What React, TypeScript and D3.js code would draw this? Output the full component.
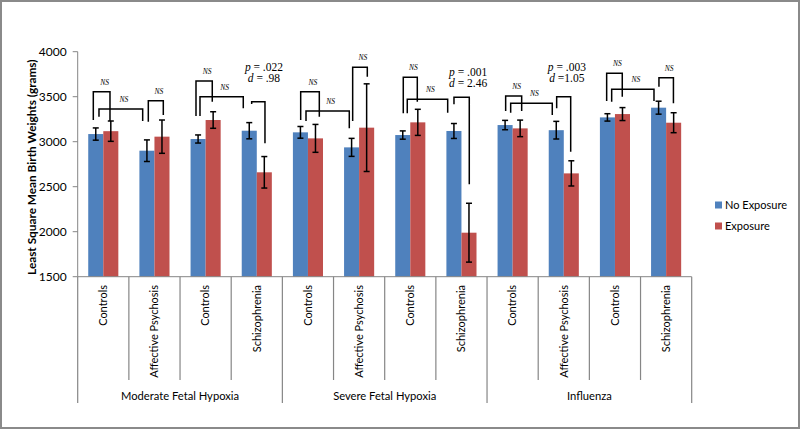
import React from 'react';
import * as d3 from 'd3';

// categories and groups along the x axis
const groups = ['Moderate Fetal Hypoxia', 'Severe Fetal Hypoxia', 'Influenza'];
const categories = [
    'Controls', 'Affective Psychosis', 'Controls', 'Schizophrenia',
    'Controls', 'Affective Psychosis', 'Controls', 'Schizophrenia',
    'Controls', 'Affective Psychosis', 'Controls', 'Schizophrenia'
];
const series = ['No Exposure', 'Exposure'];

// least square means (grams) and error bar half widths
const noExposure = [3085, 2900, 3030, 3122, 3104, 2937, 3074, 3119, 3185, 3128, 3270, 3378];
const noExposureErr = [68, 120, 45, 90, 65, 100, 46, 83, 52, 98, 41, 72];
const exposure = [3117, 3056, 3241, 2660, 3037, 3156, 3215, 1989, 3148, 2648, 3307, 3211];
const exposureErr = [113, 185, 92, 175, 155, 487, 145, 327, 92, 140, 72, 111];

const yTicks = [1500, 2000, 2500, 3000, 3500, 4000];

// comparison brackets: [x1, x2 (category units), top, left end, right end (grams), label]
const brackets = [
    [0.305, 0.631, 3556, 3241, 3230, 'NS'],
    [0.416, 1.270, 3363, 3278, 3230, 'NS'],
    [1.380, 1.673, 3456, 3222, 3297, 'NS'],
    [2.312, 2.630, 3674, 3286, 3444, 'NS'],
    [2.390, 3.236, 3500, 3286, 3371, 'NS'],
    [3.400, 3.660, 3444, 3419, 2982, ''],
    [4.358, 4.722, 3556, 3241, 3278, 'NS'],
    [4.462, 5.308, 3341, 3230, 3149, 'NS'],
    [5.374, 5.660, 3827, 3230, 3722, 'NS'],
    [6.363, 6.637, 3716, 3316, 3444, 'NS'],
    [6.441, 7.231, 3471, 3316, 3322, 'NS'],
    [7.354, 7.653, 3493, 3416, 2527, ''],
    [8.364, 8.677, 3508, 3341, 3341, 'NS'],
    [8.462, 9.275, 3427, 3322, 3297, 'NS'],
    [9.361, 9.635, 3500, 3371, 2889, ''],
    [10.338, 10.643, 3760, 3452, 3500, 'NS'],
    [10.436, 11.263, 3582, 3444, 3452, 'NS'],
    [11.360, 11.643, 3711, 3611, 3427, 'NS']
];

// significant results: [x (category units), baseline (grams), p, d]
const statLabels = [
    [3.64, 3785, ' = .022', ' = .98'],
    [7.63, 3730, ' = .001', ' = 2.46'],
    [9.56, 3790, ' = .003', ' =1.05']
];

const colors = ['#4F81BD', '#C0504D'];
const sans = 'Lato, "Open Sans", sans-serif';
const serif = '"Liberation Serif", "DejaVu Serif", serif';

export default function App() {
    const width = 800, height = 429;
    let left = 77.7, right = 691.7, top = 51.7, bottom = 276.7;

    let x = d3.scaleBand()
        .domain(d3.range(categories.length))
        .range([left, right])
        .padding(0);

    let xs = d3.scaleBand()
        .domain(series)
        .range([0, x.bandwidth()])
        .paddingInner(0)
        .paddingOuter(0.7);

    // continuous position in category units, for the brackets
    let xu = d3.scaleLinear()
        .domain([0, categories.length])
        .range([left, right]);

    let y = d3.scaleLinear()
        .domain([1500, 4000])
        .range([bottom, top]);

    let values = [noExposure, exposure];
    let errs = [noExposureErr, exposureErr];
    let axisColor = '#868686';

    return (
        <svg width={width} height={height}
            style={{ position: 'fixed', left: 0, top: 0, background: '#fff' }}>
            <rect x={1} y={1} width={width - 2} height={height - 2}
                fill="#fff" stroke="#8a8a8a" strokeWidth={2} />

            {/* y axis */}
            <line x1={left} x2={left} y1={top} y2={bottom} stroke={axisColor} />
            {yTicks.map(t => (
                <g key={t}>
                    <line x1={left - 5} x2={left} y1={y(t)} y2={y(t)} stroke={axisColor} />
                    <text x={left - 11} y={y(t)} dy="0.35em" textAnchor="end"
                        fontFamily={sans} fontSize={12} fill="#000">{t}</text>
                </g>
            ))}
            <text transform={`translate(32,${(top + bottom) / 2 + 3}) rotate(-90)`}
                textAnchor="middle" fontFamily={sans} fontWeight="bold" fontSize={11.8}
                dy="0.35em" fill="#000">
                Least Square Mean Birth Weights (grams)
            </text>

            {/* bars */}
            {series.map((s, si) => categories.map((c, i) => (
                <rect key={s + i}
                    x={x(i) + xs(s)} width={xs.bandwidth()}
                    y={y(values[si][i])} height={bottom - y(values[si][i])}
                    fill={colors[si]} />
            )))}

            {/* error bars */}
            {series.map((s, si) => categories.map((c, i) => {
                let cx = x(i) + xs(s) + xs.bandwidth() / 2;
                let hi = y(values[si][i] + errs[si][i]);
                let lo = y(values[si][i] - errs[si][i]);
                return (
                    <g key={'e' + s + i} stroke="#000" strokeWidth={1.5}>
                        <line x1={cx} x2={cx} y1={hi} y2={lo} />
                        <line x1={cx - 3} x2={cx + 3} y1={hi} y2={hi} />
                        <line x1={cx - 3} x2={cx + 3} y1={lo} y2={lo} />
                    </g>
                );
            }))}

            {/* x axis with category and group separators */}
            <line x1={left} x2={right} y1={bottom} y2={bottom} stroke={axisColor} />
            {d3.range(categories.length + 1).map(i => (
                <line key={'s' + i} x1={xu(i)} x2={xu(i)} y1={bottom}
                    y2={i % 4 === 0 ? 403 : 380} stroke={axisColor} strokeWidth={1.2} />
            ))}
            {categories.map((c, i) => (
                <text key={'c' + i}
                    transform={`translate(${x(i) + x.bandwidth() / 2},285) rotate(-90)`}
                    textAnchor="end" dy="0.35em" fontFamily={sans} fontSize={11} fill="#000">
                    {c}
                </text>
            ))}
            {groups.map((g, gi) => (
                <text key={g} x={xu(gi * 4 + 2)} y={396} dy="0.35em" textAnchor="middle"
                    fontFamily={sans} fontSize={11.2} fill="#000">{g}</text>
            ))}

            {/* comparison brackets */}
            {brackets.map((b, i) => {
                let [x1, x2, t, l, r, label] = b as [number, number, number, number, number, string];
                let yt = y(t);
                return (
                    <g key={'b' + i}>
                        <path d={`M${xu(x1)},${y(l)}V${yt}H${xu(x2)}V${y(r)}`}
                            fill="none" stroke="#000" strokeWidth={1.5} />
                        {label && (
                            <text x={(xu(x1) + xu(x2)) / 2 + 3} y={yt - 7} textAnchor="middle"
                                fontFamily={serif} fontStyle="italic" fontSize={7.5} fill="#000">
                                {label}
                            </text>
                        )}
                    </g>
                );
            })}
            {statLabels.map((s, i) => {
                let [sx, sy, p, d] = s as [number, number, string, string];
                return (
                    <g key={'p' + i} fontFamily={serif} fontSize={11.5} fill="#000">
                        <text x={xu(sx)} y={y(sy)} textAnchor="middle">
                            <tspan fontStyle="italic">p</tspan>{p}
                        </text>
                        <text x={xu(sx)} y={y(sy) + 11} textAnchor="middle">
                            <tspan fontStyle="italic">d</tspan>{d}
                        </text>
                    </g>
                );
            })}

            {/* legend */}
            {series.map((s, si) => (
                <g key={'l' + s} transform={`translate(715,${201.5 + si * 21})`}>
                    <rect width={7} height={7} fill={colors[si]} />
                    <text x={10} y={3.5} dy="0.35em" fontFamily={sans} fontSize={11} fill="#000">{s}</text>
                </g>
            ))}
        </svg>
    );
}
